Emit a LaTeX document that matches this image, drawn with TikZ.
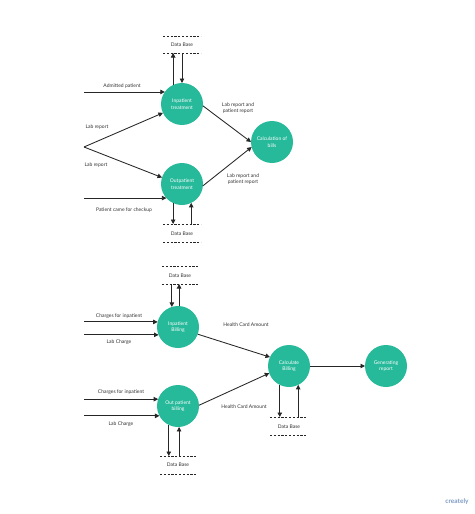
\documentclass[tikz,border=0pt]{standalone}
\usepackage{fontspec}
\setmainfont{Lato}
\usetikzlibrary{arrows.meta}
\definecolor{teal1}{RGB}{38,185,154}
\definecolor{logoblue}{RGB}{70,110,170}
\begin{document}
\begin{tikzpicture}[x=1pt,y=-1pt,
  proc/.style={circle,fill=teal1,minimum size=42pt,inner sep=0pt,outer sep=0pt,text=white,align=center,font=\fontsize{5}{6.5}\selectfont},
  lbl/.style={font=\fontsize{5}{6.5}\selectfont,text=black!80,align=center,inner sep=0pt},
  flow/.style={draw=black!85,line width=0.85pt,-{Triangle[length=4.5pt,width=4.5pt]}},
  dbline/.style={draw=black!85,line width=0.7pt,dash pattern=on 2.2pt off 1.6pt}]
\useasboundingbox (0,0) rectangle (474,514);
\fill[white] (0,0) rectangle (474,514);
\coordinate (lft) at (84,0);

% ---------- top part ----------
\node[proc] (ipt) at (182,104) {Inpatient\\treatment};
\node[proc] (opt) at (182,184) {Outpatient\\treatment};
\node[proc] (calc) at (272,142) {Calculation of\\bills};

% database top
\coordinate (dbAa) at (163,36); \coordinate (dbAb) at (201,36);
\coordinate (dbAc) at (163,53); \coordinate (dbAd) at (201,53);
\draw[dbline] (dbAa) -- (dbAb);
\draw[dbline] (dbAc) -- (dbAd);
\node[lbl] (dbA) at (182,45) {Data Base};
\draw[flow] (ipt.115) -- (ipt.115 |- dbAc);
\draw[flow] (ipt.north |- dbAc) -- (ipt.north);

% database below outpatient
\coordinate (dbBa) at (163,224); \coordinate (dbBb) at (201,224);
\coordinate (dbBc) at (163,242); \coordinate (dbBd) at (201,242);
\draw[dbline] (dbBa) -- (dbBb);
\draw[dbline] (dbBc) -- (dbBd);
\node[lbl] (dbB) at (182,234) {Data Base};
\draw[flow] (opt.245) -- (opt.245 |- dbBa);
\draw[flow] (opt.296 |- dbBa) -- (opt.296);

% inputs
\draw[flow] (ipt.145 -| lft) -- (ipt.145);
\node[lbl] (tA) at (122,86) {Admitted patient};
\coordinate (inLab) at (84,147);
\draw[flow] (inLab) -- (ipt.205);
\draw[flow] (inLab) -- (opt.162);
\node[lbl] (tL1) at (97,127) {Lab report};
\node[lbl] (tL2) at (96,165) {Lab report};
\draw[flow] (opt.222 -| lft) -- (opt.222);
\node[lbl] (tP) at (124,210) {Patient came for checkup};

% to calculation
\draw[flow] (ipt.-5) -- (calc.180);
\draw[flow] (opt.-5) -- (calc.194);
\node[lbl] (tR1) at (238,108) {Lab report and\\patient report};
\node[lbl] (tR2) at (243,179) {Lab report and\\patient report};

% ---------- bottom part ----------
\node[proc] (ib) at (178,327) {Inpatient\\Billing};
\node[proc] (ob) at (178,406) {Out patient\\billing};
\node[proc] (cb) at (289,366) {Calculate\\Billing};
\node[proc] (gr) at (386,366) {Generating\\report};

% db inpatient billing
\coordinate (dbCa) at (162,266); \coordinate (dbCb) at (198,266);
\coordinate (dbCc) at (162,284); \coordinate (dbCd) at (198,284);
\draw[dbline] (dbCa) -- (dbCb);
\draw[dbline] (dbCc) -- (dbCd);
\node[lbl] (dbC) at (180,276) {Data Base};
\draw[flow] (ib.107 |- dbCc) -- (ib.107);
\draw[flow] (ib.87) -- (ib.87 |- dbCc);

% db out patient billing
\coordinate (dbDa) at (160,456); \coordinate (dbDb) at (197,456);
\coordinate (dbDc) at (160,474); \coordinate (dbDd) at (197,474);
\draw[dbline] (dbDa) -- (dbDb);
\draw[dbline] (dbDc) -- (dbDd);
\node[lbl] (dbD) at (178,465) {Data Base};
\draw[flow] (ob.244) -- (ob.244 |- dbDa);
\draw[flow] (ob.273 |- dbDa) -- (ob.273);

% db calculate billing
\coordinate (dbEa) at (270,417); \coordinate (dbEb) at (307,417);
\coordinate (dbEc) at (270,435); \coordinate (dbEd) at (307,435);
\draw[dbline] (dbEa) -- (dbEb);
\draw[dbline] (dbEc) -- (dbEd);
\node[lbl] (dbE) at (289,427) {Data Base};
\draw[flow] (cb.244) -- (cb.244 |- dbEa);
\draw[flow] (cb.296 |- dbEa) -- (cb.296);

% inputs billing
\draw[flow] (ib.166 -| lft) -- (ib.166);
\node[lbl] (tC1) at (119,316) {Charges for inpatient};
\draw[flow] (ib.202 -| lft) -- (ib.202);
\node[lbl] (tC2) at (119,342) {Lab Charge};
\draw[flow] (ob.161 -| lft) -- (ob.161);
\node[lbl] (tD1) at (121,392) {Charges for inpatient};
\draw[flow] (ob.208 -| lft) -- (ob.208);
\node[lbl] (tD2) at (121,424) {Lab Charge};

% to calculate billing
\draw[flow] (ib.-20) -- (cb.155);
\draw[flow] (ob.2) -- (cb.200);
\node[lbl] (tH1) at (246,325) {Health Card Amount};
\node[lbl] (tH2) at (244,407) {Health Card Amount};
\draw[flow] (cb.east) -- (gr.west);

% watermark
\node[font=\fontsize{6.5}{7}\selectfont\bfseries,text=logoblue!70,inner sep=0pt] (logo) at (457,502) {creately};
\end{tikzpicture}
\end{document}
